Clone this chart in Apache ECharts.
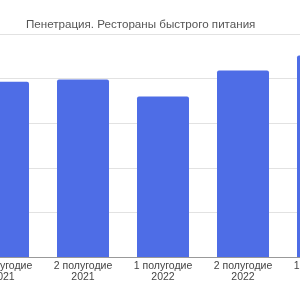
<!DOCTYPE html>
<html>
<head>
<meta charset="utf-8">
<script src="https://cdn.jsdelivr.net/npm/echarts@6/dist/echarts.min.js"></script>
<style>
  html, body { margin: 0; padding: 0; width: 300px; height: 300px; overflow: hidden; background: #fff; }
  #chart { position: absolute; left: -37px; top: 0; width: 400px; height: 300px; }
</style>
</head>
<body>
<div id="chart"></div>
<script>
// половины года и пенетрация (%), ось Y обрезана в исходнике
const periods = ['1 полугодие\n2021', '2 полугодие\n2021', '1 полугодие\n2022', '2 полугодие\n2022', '1 полугодие\n2023']
const penetration = [39.3, 39.8, 36.0, 41.8, 45.2]

const chart = echarts.init(document.getElementById('chart'))
chart.setOption({
  animation: false,
  title: {
    text: 'Пенетрация. Рестораны быстрого питания',
    left: 63,
    top: 19,
    padding: 0,
    textStyle: { fontFamily: 'Liberation Sans, Arial', fontSize: 11.6, fontWeight: 'normal', color: '#555' },
  },
  grid: { left: 0, right: 0, top: 34, bottom: 43 },
  xAxis: {
    type: 'category',
    data: periods,
    axisTick: { show: false },
    axisLine: { lineStyle: { color: '#999', width: 1 } },
    axisLabel: { fontFamily: 'Liberation Sans, Arial', fontSize: 10.5, lineHeight: 11, color: '#444', margin: 4, interval: 0 },
  },
  yAxis: {
    type: 'value',
    min: 0,
    max: 50,
    interval: 10,
    axisLabel: { show: false },
    splitLine: { lineStyle: { color: '#e2e2e2' } },
  },
  series: [{
    type: 'bar',
    data: penetration,
    barWidth: '65%',
    itemStyle: { color: '#4e6de6', borderRadius: [2, 2, 0, 0] },
  }],
})
</script>
</body>
</html>
